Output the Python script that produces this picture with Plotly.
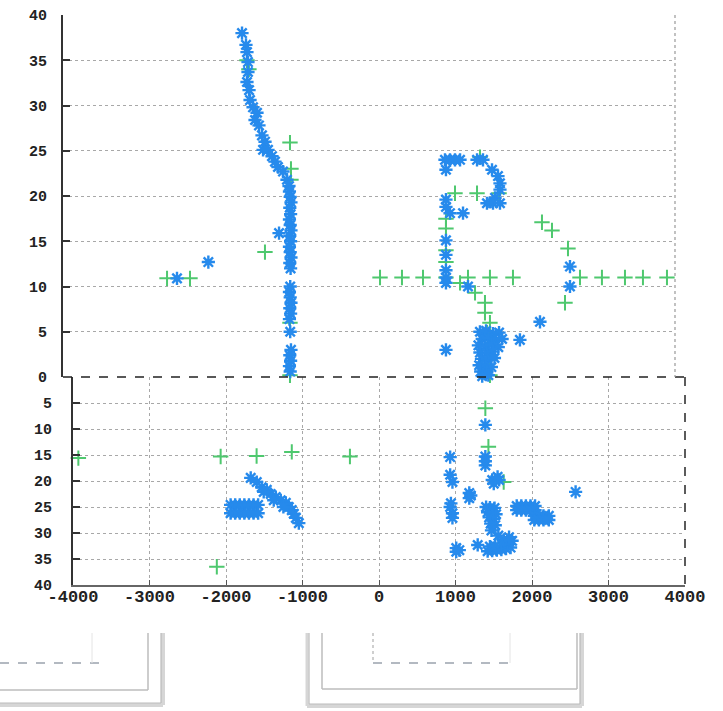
import plotly.graph_objects as go

# ---------------- data ----------------
# upper panel (y from 0 up to 40)
top_blue_x = [-1660, -1608, -1595, -1582, -1582, -1595, -1568, -1555, -1516, -1464, -1490, -1438,
              -1399, -1359, -1385, -1320, -1268, -1229, -1190, -1124, -1072, -1046,
              -1040, -1030, -1020, -1035, -1025, -1040, -1030, -1020, -1035, -1025, -1040, -1030,
              -1020, -1035, -1025, -1030, -1040, -1030, -1020, -1035, -1025, -1040, -1030, -1020,
              -1035, -1025, -1040, -1030,
              -1176, -2100, -2510,
              993, 1059, 1124, 1190, 1412, 1490, 1006, 1608, 1686, 1712, 1712, 1647, 1542, 1621, 1712,
              1006, 1006, 1059, 1229, 1006, 1006, 1006, 1006, 1006, 1294, 1006, 2235, 1973, 2627, 2627,
              1450, 1530, 1620, 1700, 1480, 1560, 1650, 1740, 1430, 1520, 1600, 1690, 1450, 1540, 1620,
              1470, 1550, 1640, 1440, 1520, 1600, 1460, 1540, 1480, 1560]
top_blue_y = [38.0, 36.7, 35.9, 34.8, 33.7, 32.6, 31.7, 30.6, 29.8, 29.2, 28.4, 27.8,
              26.7, 26.0, 25.1, 25.1, 24.4, 23.8, 23.2, 22.7, 21.8, 21.1,
              20.5, 19.9, 19.3, 18.7, 18.0, 17.4, 16.8, 16.2, 15.6, 15.0, 14.4, 13.8,
              13.2, 12.6, 12.0, 10.0, 9.4, 8.8, 8.2, 7.6, 7.0, 6.4, 5.0, 3.0,
              2.4, 1.8, 1.2, 0.6,
              15.9, 12.7, 10.9,
              24.0, 24.0, 24.0, 24.0, 24.0, 24.0, 22.9, 22.9, 22.2, 21.4, 20.7, 19.8, 19.2, 19.2, 19.2,
              19.6, 18.8, 18.1, 18.1, 15.1, 13.5, 11.8, 11.0, 10.4, 10.0, 3.0, 6.1, 4.1, 12.2, 10.0,
              5.0, 5.1, 4.8, 4.9, 4.2, 4.3, 4.0, 4.2, 3.5, 3.4, 3.6, 3.3, 2.7, 2.6, 2.8,
              2.0, 1.9, 2.1, 1.3, 1.2, 1.1, 0.6, 0.5, 0.1, 0.2]

top_green_x = [-1595, -1570, -1033, -1020, -1020, -1360, -1033, -1033, -2640, -2340,
               144, 431, 706, 1006, 1294, 1581, 1882, 2758, 3045, 3346, 3581, 3895,
               1124, 1412, 1700, 1451, 1006, 1006, 1006, 1006,
               2261, 2392, 2601, 2562,
               1190, 1386, 1516, 1516, 1581, 1542, 1555, 1581, 1581]
top_green_y = [35.0, 34.0, 25.9, 23.0, 21.8, 13.8, 6.0, 0.2, 10.9, 10.9,
               11.0, 11.0, 11.0, 11.0, 11.0, 11.0, 11.0, 11.0, 11.0, 11.0, 11.0, 11.0,
               20.3, 20.3, 20.3, 24.3, 17.5, 16.4, 14.0, 12.7,
               17.1, 16.2, 14.2, 8.2,
               10.4, 9.3, 8.2, 7.1, 6.0, 4.9, 3.5, 1.9, 0.2]

# lower panel (y from 0 down to 40)
bot_blue_x = [-1940, -1880, -1820, -1760, -1700, -1640, -1580,
              -1940, -1880, -1820, -1760, -1700, -1640, -1580,
              -1677, -1598, -1533, -1467, -1415, -1349, -1284, -1218, -1179, -1140, -1114, -1087, -1048,
              -1507, -1376, -1250,
              1390, 1390, 1390, 1390, 930, 930, 960,
              1480, 1520, 1570, 1500, 1550,
              1180, 1180, 1200, 930, 960, 960, 940,
              1400, 1450, 1510, 1420, 1480, 1530, 1440, 1500, 1460, 1520, 1470,
              1800, 1860, 1920, 1980, 2040, 1800, 1860, 1920, 1980, 2040,
              2030, 2090, 2150, 2220, 2030, 2090, 2150, 2220,
              2570, 1290,
              1420, 1480, 1540, 1600, 1660, 1720, 1450, 1520, 1600, 1680, 1740, 1630, 1560, 1700,
              1010, 1010, 1050]
bot_blue_y = [24.6, 24.6, 24.6, 24.6, 24.6, 24.6, 24.6,
              26.2, 26.2, 26.2, 26.2, 26.2, 26.2, 26.2,
              19.4, 20.2, 21.2, 21.7, 22.5, 23.1, 23.7, 24.2, 25.0, 25.6, 26.3, 27.1, 28.1,
              22.1, 23.7, 25.0,
              9.2, 15.3, 17.0, 16.2, 15.4, 18.8, 20.2,
              19.8, 19.8, 19.8, 20.5, 19.2,
              22.3, 23.3, 22.8, 25.0, 26.2, 27.1, 24.3,
              25.0, 25.1, 25.2, 26.0, 26.2, 26.4, 27.0, 27.3, 28.2, 28.5, 29.5,
              24.8, 24.8, 24.8, 24.8, 24.8, 25.6, 25.6, 25.6, 25.6, 25.6,
              26.7, 26.7, 26.7, 26.7, 27.5, 27.5, 27.5, 27.5,
              22.1, 32.3,
              33.5, 33.4, 33.3, 33.2, 33.0, 32.8, 32.6, 32.5, 32.0, 31.8, 31.5, 31.3, 30.5, 30.8,
              32.9, 33.6, 33.3]

bot_green_x = [-3930, -2070, -1600, -1140, -380, -2120, 1390, 1430, 1630]
bot_green_y = [15.6, 15.3, 15.2, 14.4, 15.3, 36.5, 6.0, 13.4, 20.2]

y_ticks = [0, 5, 10, 15, 20, 25, 30, 35, 40]
top_y_labels = ["0", "5", "10", "15", "20", "25", "30", "35", "40"]
bot_y_labels = ["", "5", "10", "15", "20", "25", "30", "35", "40"]
x_ticks = [-4000, -3000, -2000, -1000, 0, 1000, 2000, 3000, 4000]
x_tick_labels = ["-4000", "-3000", "-2000", "-1000", "0", "1000", "2000", "3000", "4000"]

# ---------------- styling ----------------
W, H = 723, 711
BLUE = "rgb(38,138,236)"
GREEN = "rgb(78,200,110)"
YFONT = dict(family="Liberation Mono", size=15, color="#222", weight="bold")
XFONT = dict(family="Liberation Mono", size=17, color="#222", weight="bold")


def fx(p):
    return p / W


def fy(p):
    return 1 - p / H


fig = go.Figure()

blue_marker = dict(symbol="asterisk-open", size=11, color=BLUE, line=dict(color=BLUE, width=2.4))
green_marker = dict(symbol="cross-thin-open", size=11, color=GREEN, line=dict(color=GREEN, width=2))

fig.add_trace(go.Scatter(x=top_green_x, y=top_green_y, mode="markers", marker=green_marker,
                         xaxis="x", yaxis="y", showlegend=False, cliponaxis=False))
fig.add_trace(go.Scatter(x=top_blue_x, y=top_blue_y, mode="markers", marker=blue_marker,
                         xaxis="x", yaxis="y", showlegend=False, cliponaxis=False))
fig.add_trace(go.Scatter(x=bot_green_x, y=bot_green_y, mode="markers", marker=green_marker,
                         xaxis="x2", yaxis="y2", showlegend=False, cliponaxis=False))
fig.add_trace(go.Scatter(x=bot_blue_x, y=bot_blue_y, mode="markers", marker=blue_marker,
                         xaxis="x2", yaxis="y2", showlegend=False, cliponaxis=False))

grid = dict(showgrid=True, gridcolor="#a8a8a8", griddash="dot", gridwidth=1)

fig.update_layout(
    width=W, height=H,
    margin=dict(l=0, r=0, t=0, b=0, pad=0, autoexpand=False),
    paper_bgcolor="white", plot_bgcolor="white",
    xaxis=dict(domain=[fx(63), fx(675)], range=[-4000, 4000], anchor="y", automargin=False,
               showticklabels=False, showgrid=False, zeroline=False, showline=False, ticks=""),
    yaxis=dict(domain=[fy(377), fy(15)], range=[0, 40], anchor="x", automargin=False,
               tickvals=y_ticks, ticktext=top_y_labels,
               ticks="inside", ticklen=7, tickcolor="#333", tickwidth=2,
               showline=True, linecolor="#333", linewidth=2, zeroline=False,
               tickfont=YFONT, ticklabelstandoff=11, **grid),
    xaxis2=dict(domain=[fx(73), fx(685)], range=[-4000, 4000], anchor="y2", automargin=False,
                tickvals=x_ticks, ticktext=x_tick_labels,
                ticks="inside", ticklen=5, tickcolor="#555",
                showline=True, linecolor="#666", linewidth=2, zeroline=False,
                tickfont=XFONT, ticklabelstandoff=-5, **grid),
    yaxis2=dict(domain=[fy(585), fy(377)], range=[40, 0], anchor="x2", automargin=False,
                tickvals=y_ticks, ticktext=bot_y_labels,
                ticks="inside", ticklen=7, tickcolor="#333", tickwidth=2,
                showline=True, linecolor="#333", linewidth=2, zeroline=False,
                tickfont=YFONT, ticklabelstandoff=16, **grid),
)

shapes = []
# dashed dividing line between panels, frame edges
shapes.append(dict(type="line", xref="paper", yref="paper", x0=fx(63), x1=fx(685), y0=fy(377), y1=fy(377),
                   line=dict(color="#222", width=1.6, dash="dash")))
shapes.append(dict(type="line", xref="paper", yref="paper", x0=fx(675), x1=fx(675), y0=fy(15), y1=fy(377),
                   line=dict(color="#999", width=1.2, dash="dot")))
shapes.append(dict(type="line", xref="paper", yref="paper", x0=fx(685), x1=fx(685), y0=fy(377), y1=fy(585),
                   line=dict(color="#333", width=1.6, dash="dash")))


def seg(x0, y0, x1, y1, color="#c8c8c8", width=1.5, dash="solid"):
    shapes.append(dict(type="line", xref="paper", yref="paper", x0=fx(x0), x1=fx(x1), y0=fy(y0), y1=fy(y1),
                       line=dict(color=color, width=width, dash=dash), layer="below"))


# window thumbnails at the bottom (left one)
seg(0, 705, 163, 705, "#d6d6d6", 4)
seg(163, 633, 163, 705, "#d6d6d6", 4)
seg(0, 703, 161, 703, "#bbbbbb", 1.2)
seg(161, 633, 161, 703, "#bbbbbb", 1.2)
seg(0, 690, 148, 690, "#bdbdbd", 1.5)
seg(148, 633, 148, 690, "#bdbdbd", 1.5)
seg(0, 663, 100, 663, "#9aa3ad", 1.5, "dash")
seg(92, 633, 92, 663, "#e4e4e4", 1)
# right one
seg(307, 706, 582, 706, "#d6d6d6", 4)
seg(307, 633, 307, 706, "#d6d6d6", 3)
seg(582, 633, 582, 706, "#d6d6d6", 4)
seg(309, 704, 580, 704, "#bbbbbb", 1.2)
seg(309, 633, 309, 704, "#bbbbbb", 1.2)
seg(580, 633, 580, 704, "#bbbbbb", 1.2)
seg(322, 689, 577, 689, "#bdbdbd", 1.5)
seg(322, 633, 322, 689, "#bdbdbd", 1.5)
seg(577, 633, 577, 689, "#bdbdbd", 1.5)
seg(373, 663, 517, 663, "#9aa3ad", 1.5, "dash")
seg(373, 633, 373, 663, "#b0b0b0", 1.2, "dot")
seg(510, 633, 510, 663, "#e4e4e4", 1)

fig.update_layout(shapes=shapes)

fig.write_html("out.html")
